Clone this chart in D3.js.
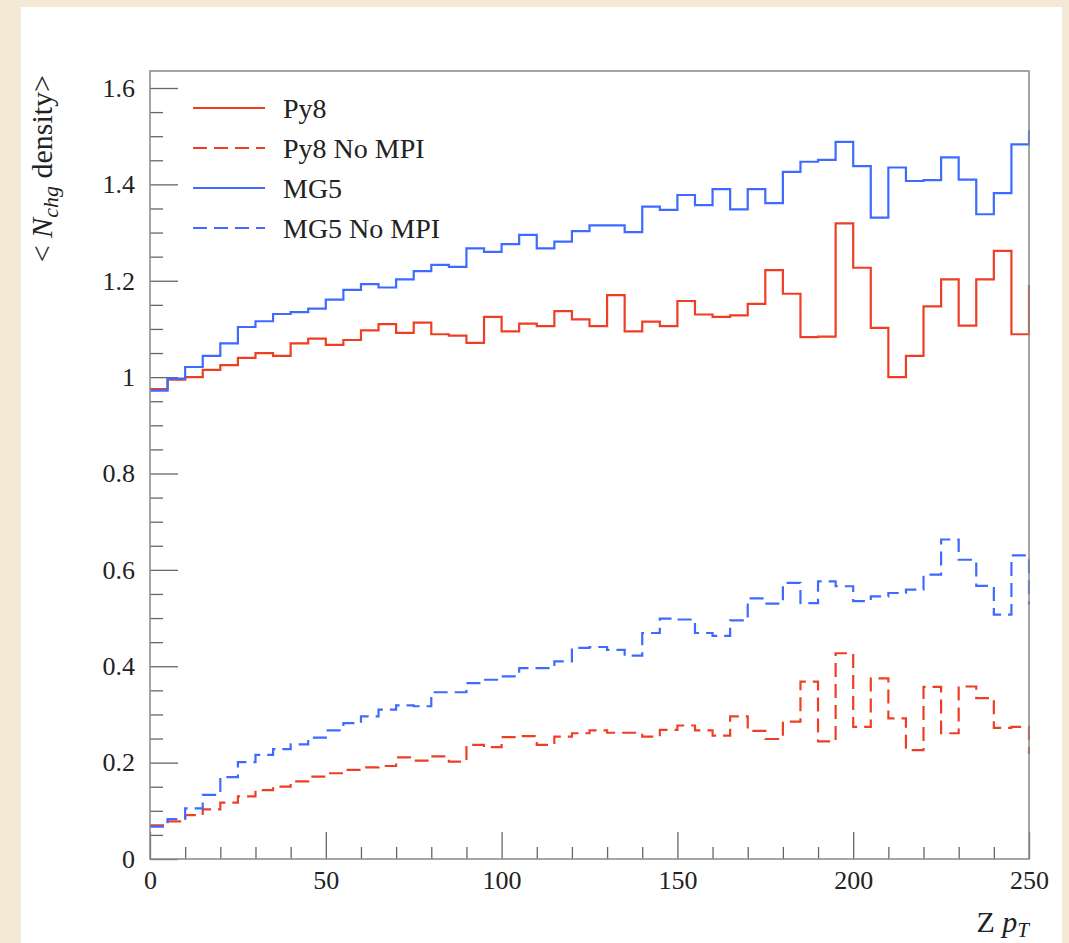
<!DOCTYPE html>
<html>
<head>
<meta charset="utf-8">
<script src="https://cdn.jsdelivr.net/npm/d3@7"></script>
<style>
  body { margin: 0; background: #f3e9d5; }
  .tickText { font-family: "Palatino Linotype", Palatino, "Liberation Serif", serif; font-size: 26px; fill: #222; }
  .legendText { font-family: "Palatino Linotype", Palatino, "Liberation Serif", serif; font-size: 28px; fill: #222; }
  .axisText { font-family: "Palatino Linotype", Palatino, "Liberation Serif", serif; font-size: 30px; fill: #222; }
</style>
</head>
<body>
<div id="chart"></div>
<script>
// Bin edges (Z pT, 5 GeV bins) - last bin is the overflow just past 250
var binEdges = d3.range(0, 260, 5);

// <N_chg density> per bin
var py8 = [0.975, 0.995, 1.0, 1.015, 1.025, 1.04, 1.05, 1.044, 1.07, 1.08,
  1.067, 1.077, 1.097, 1.11, 1.092, 1.113, 1.089, 1.086, 1.071, 1.125,
  1.095, 1.111, 1.106, 1.137, 1.12, 1.106, 1.17, 1.095, 1.115, 1.106,
  1.158, 1.13, 1.125, 1.128, 1.152, 1.222, 1.173, 1.083, 1.084, 1.319,
  1.227, 1.102, 1.0, 1.044, 1.147, 1.203, 1.107, 1.203, 1.262, 1.089, 1.189];

var py8NoMPI = [0.07, 0.078, 0.091, 0.103, 0.117, 0.13, 0.143, 0.15, 0.161, 0.171,
  0.178, 0.185, 0.19, 0.193, 0.211, 0.204, 0.213, 0.202, 0.237, 0.232,
  0.253, 0.255, 0.237, 0.254, 0.261, 0.267, 0.262, 0.262, 0.254, 0.268,
  0.277, 0.267, 0.256, 0.296, 0.266, 0.249, 0.285, 0.368, 0.244, 0.427,
  0.274, 0.375, 0.292, 0.226, 0.357, 0.261, 0.358, 0.334, 0.272, 0.274, 0.22];

var mg5 = [0.972, 0.997, 1.021, 1.044, 1.07, 1.104, 1.116, 1.131, 1.135, 1.142,
  1.161, 1.181, 1.193, 1.186, 1.203, 1.22, 1.233, 1.229, 1.267, 1.26,
  1.276, 1.295, 1.267, 1.281, 1.303, 1.315, 1.315, 1.301, 1.354, 1.347,
  1.378, 1.357, 1.39, 1.348, 1.39, 1.361, 1.426, 1.447, 1.451, 1.488,
  1.438, 1.331, 1.435, 1.407, 1.409, 1.456, 1.41, 1.338, 1.382, 1.483, 1.51];

var mg5NoMPI = [0.067, 0.083, 0.105, 0.133, 0.17, 0.201, 0.216, 0.228, 0.238, 0.252,
  0.267, 0.282, 0.296, 0.31, 0.319, 0.317, 0.346, 0.346, 0.365, 0.372,
  0.379, 0.396, 0.396, 0.41, 0.438, 0.44, 0.434, 0.422, 0.469, 0.499,
  0.497, 0.469, 0.463, 0.495, 0.541, 0.53, 0.573, 0.531, 0.576, 0.566,
  0.535, 0.545, 0.552, 0.559, 0.59, 0.663, 0.621, 0.567, 0.507, 0.63, 0.53];

var seriesNames = ["Py8", "Py8 No MPI", "MG5", "MG5 No MPI"];
var seriesColors = ["#ee3f25", "#ee3f25", "#3d6bff", "#3d6bff"];
var seriesDashed = [false, true, false, true];
var seriesValues = [py8, py8NoMPI, mg5, mg5NoMPI];

var xTicks = [0, 50, 100, 150, 200, 250];
var yTicks = [0, 0.2, 0.4, 0.6, 0.8, 1, 1.2, 1.4, 1.6];
var yTickLabels = ["0", "0.2", "0.4", "0.6", "0.8", "1", "1.2", "1.4", "1.6"];

// Size Graph
var svgWidth = 1069;
var svgHeight = 943;

var margin = { top: 71, right: 40, bottom: 84, left: 150 };
var width = svgWidth - margin.left - margin.right;
var height = svgHeight - margin.top - margin.bottom;

var svg = d3.select("#chart")
  .append("svg")
  .attr("width", svgWidth)
  .attr("height", svgHeight);

// parchment background + white sheet
svg.append("rect").attr("width", svgWidth).attr("height", svgHeight).attr("fill", "#f3e9d5");
svg.append("rect").attr("x", 21).attr("y", 7).attr("width", 1041).attr("height", svgHeight).attr("fill", "#fff");

var chartGroup = svg.append("g")
  .attr("transform", `translate(${margin.left}, ${margin.top})`);

// Scales
var xScale = d3.scaleLinear().domain([0, 250]).range([0, width]);
var yScale = d3.scaleLinear().domain([0, 1.6]).range([height, 17]);

// Minor ticks
var xMinor = d3.range(0, 251, 10).filter(d => d % 50 !== 0);
var yMinor = d3.range(0, 33).map(d => d * 0.05).filter(d => Math.round(d * 20) % 4 !== 0);

chartGroup.append("g")
  .attr("transform", `translate(0, ${height})`)
  .call(d3.axisBottom(xScale).tickValues(xMinor).tickSize(-12).tickFormat(""))
  .call(g => g.select(".domain").remove())
  .call(g => g.selectAll("line").attr("stroke", "#666").attr("stroke-width", 1.3));

chartGroup.append("g")
  .call(d3.axisLeft(yScale).tickValues(yMinor).tickSize(-13).tickFormat(""))
  .call(g => g.select(".domain").remove())
  .call(g => g.selectAll("line").attr("stroke", "#666").attr("stroke-width", 1.3));

// Major ticks with labels
var bottomAxis = d3.axisBottom(xScale).tickValues(xTicks).tickSize(-27).tickPadding(12);
var leftAxis = d3.axisLeft(yScale).tickValues(yTicks).tickSize(-28).tickPadding(15)
  .tickFormat((d, i) => yTickLabels[i]);

chartGroup.append("g")
  .attr("transform", `translate(0, ${height})`)
  .call(bottomAxis)
  .call(g => g.select(".domain").remove())
  .call(g => g.selectAll("line").attr("stroke", "#666").attr("stroke-width", 1.3))
  .call(g => g.selectAll("text").attr("class", "tickText").attr("font-size", null).attr("font-family", null));

chartGroup.append("g")
  .call(leftAxis)
  .call(g => g.select(".domain").remove())
  .call(g => g.selectAll("line").attr("stroke", "#666").attr("stroke-width", 1.3))
  .call(g => g.selectAll("text").attr("class", "tickText").attr("font-size", null).attr("font-family", null));

// clip so the overflow bin only shows its edge step
chartGroup.append("clipPath").attr("id", "plotClip")
  .append("rect").attr("x", 0).attr("y", 0).attr("width", width + 1).attr("height", height);

// Histogram step lines
var stepLine = d3.line()
  .x(d => xScale(d[0]))
  .y(d => yScale(d[1]))
  .curve(d3.curveStepAfter);

var histGroup = chartGroup.append("g").attr("clip-path", "url(#plotClip)");

seriesValues.forEach(function(vals, s) {
  var pts = vals.map((v, i) => [binEdges[i], v]);
  pts.push([binEdges[vals.length], vals[vals.length - 1]]);
  histGroup.append("path")
    .datum(pts)
    .attr("d", stepLine)
    .attr("fill", "none")
    .attr("stroke", seriesColors[s])
    .attr("stroke-width", 2.2)
    .attr("stroke-dasharray", seriesDashed[s] ? "14,7" : null);
});

// Frame
chartGroup.append("rect")
  .attr("width", width)
  .attr("height", height)
  .attr("fill", "none")
  .attr("stroke", "#888")
  .attr("stroke-width", 1.5);

// Legend
var legend = chartGroup.append("g").attr("transform", "translate(43, 37)");
seriesNames.forEach(function(name, i) {
  legend.append("line")
    .attr("x1", 0).attr("x2", 72)
    .attr("y1", i * 40).attr("y2", i * 40)
    .attr("stroke", seriesColors[i])
    .attr("stroke-width", 2.2)
    .attr("stroke-dasharray", seriesDashed[i] ? "14,7" : null);
  legend.append("text")
    .attr("class", "legendText")
    .attr("x", 90)
    .attr("y", i * 40)
    .attr("dy", "0.35em")
    .text(name);
});

// Axis labels
var yLabel = svg.append("text")
  .attr("class", "axisText")
  .attr("transform", "rotate(-90)")
  .attr("x", -75)
  .attr("y", 52)
  .attr("text-anchor", "end");
yLabel.append("tspan").text("< ");
yLabel.append("tspan").attr("font-style", "italic").text("N");
yLabel.append("tspan").attr("font-style", "italic").attr("font-size", "22px").attr("dy", 6).text("chg");
yLabel.append("tspan").attr("dy", -6).text(" density>");

var xLabel = svg.append("text")
  .attr("class", "axisText")
  .attr("x", margin.left + width)
  .attr("y", 932)
  .attr("text-anchor", "end");
xLabel.append("tspan").text("Z ");
xLabel.append("tspan").attr("font-style", "italic").text("p");
xLabel.append("tspan").attr("font-style", "italic").attr("font-size", "21px").attr("dy", 5).text("T");
</script>
</body>
</html>
